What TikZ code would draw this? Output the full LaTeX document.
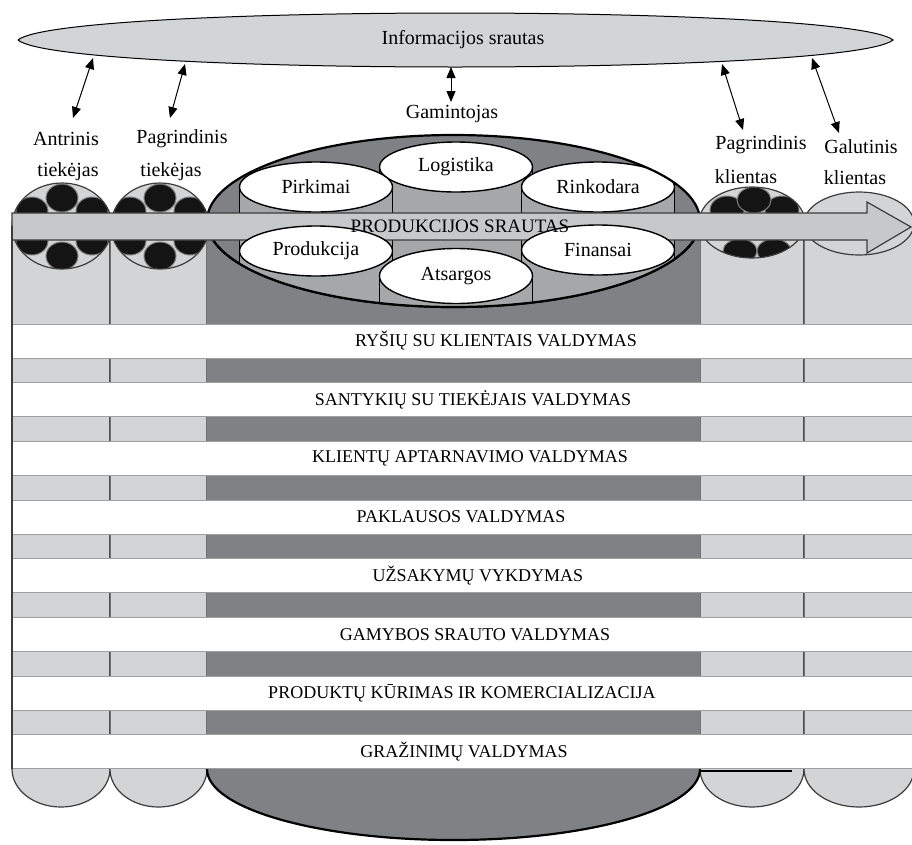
\documentclass[tikz,border=0pt]{standalone}
\usepackage{fontspec}
\setmainfont{Liberation Serif}
\usetikzlibrary{arrows.meta,shapes.geometric}

\definecolor{colgray}{HTML}{D3D4D6}
\definecolor{flowgray}{HTML}{C7C8CA}
\definecolor{bodygray}{HTML}{A6A7A9}
\definecolor{coregray}{HTML}{808185}
\definecolor{edgegray}{HTML}{3C3C3C}

\begin{document}
\begin{tikzpicture}[x=1pt,y=-1pt,
  func/.style={ellipse,draw=black,line width=1.4pt,fill=white,minimum width=153pt,
    minimum height=50pt,inner sep=0pt,font=\fontsize{20}{22}\selectfont},
  lbl/.style={font=\fontsize{20}{22}\selectfont,inner sep=0pt},
  proc/.style={font=\fontsize{18}{20}\selectfont,inner sep=0pt},
  ball/.style={fill=black!92,draw=gray,line width=1pt},
  infoarrow/.style={{Triangle[length=11pt,width=9pt]}-{Triangle[length=11pt,width=9pt]},line width=1pt}]
  \useasboundingbox (0,0) rectangle (912,844);

  % informacijos srautas (pointed ellipse)
  \draw[fill=colgray,line width=1pt] (18,40) .. controls (60,4) and (850,4) .. (893,40)
    .. controls (850,76) and (60,76) .. (18,40);
  \node[lbl] (info) at (463,40) {Informacijos srautas};

  % side columns with rounded bottoms
  \foreach \xa/\xb/\cy in {12/110/226, 110/207/226, 700/804/222, 804/914/223}{
    \pgfmathsetmacro{\rad}{(\xb-\xa)/2}
    \draw[fill=colgray,draw=edgegray,line width=1.2pt]
      (\xa,\cy) -- (\xa,769) arc[start angle=180,end angle=0,x radius=\rad,y radius=38] -- (\xb,\cy);
  }

  % central cylinder (gamintojas)
  \fill[coregray] (207,221) -- (207,769) arc[start angle=180,end angle=0,x radius=246.5,y radius=71]
    -- (700,221) -- cycle;
  \draw[line width=2.2pt] (207,769) arc[start angle=180,end angle=0,x radius=246.5,y radius=71];
  \fill[coregray] (453.5,221) ellipse [x radius=246.5,y radius=86];

  % back row of small cylinders
  \begin{scope}
    \clip (453.5,221) ellipse [x radius=246.5,y radius=86];
    \foreach \xa/\ya in {379.5/167, 239.5/187, 521.5/187}{
      \fill[bodygray] (\xa,\ya) rectangle ++(153,110);
      \draw[line width=1pt] (\xa,\ya) -- ++(0,110) (\xa+153,\ya) -- ++(0,110);
    }
    \node[func] (logistika) at (456,167) {Logistika};
    \node[func] (pirkimai) at (316,187) {Pirkimai};
    \node[func] (rinkodara) at (598,187) {Rinkodara};
  \end{scope}
  \draw[line width=2.2pt] (453.5,221) ellipse [x radius=246.5,y radius=86];

  % tops of the side cylinders with the balls
  \foreach \cx/\cy/\rx/\ry in {62/226/50/43, 160/226/49/43}{
    \fill[colgray] (\cx,\cy) ellipse [x radius=\rx,y radius=\ry];
    \begin{scope}
      \clip (\cx,\cy) ellipse [x radius=\rx,y radius=\ry];
      \foreach \dx/\by in {0/198, -30/211, 30/211, -30/241, 30/241, 0/256}
        \draw[ball] (\cx+\dx,\by) ellipse [x radius=16,y radius=14];
    \end{scope}
    \draw[draw=edgegray,line width=1.2pt] (\cx,\cy) ellipse [x radius=\rx,y radius=\ry];
  }
  \fill[colgray] (752,222.5) ellipse [x radius=53,y radius=35.5];
  \begin{scope}
    \clip (752,222.5) ellipse [x radius=53,y radius=35.5];
    \foreach \bx/\by/\bry in {727/210/14, 782/210/14, 754/200/13, 740/251/12, 774/251/12}
      \draw[ball] (\bx,\by) ellipse [x radius=17,y radius=\bry];
  \end{scope}
  \draw[draw=edgegray,line width=1.2pt] (752,222.5) ellipse [x radius=53,y radius=35.5];
  \draw[fill=colgray,draw=edgegray,line width=1.2pt] (859,223.5) ellipse [x radius=55,y radius=31.5];

  % produkcijos srautas
  \draw[fill=flowgray,draw=edgegray,line width=1.2pt] (12,213) -- (867,213) -- (867,202)
    -- (911,227) -- (867,253) -- (867,240) -- (12,240) -- cycle;

  % front row of small cylinders
  \begin{scope}
    \clip (453.5,221) ellipse [x radius=246.5,y radius=86];
    \foreach \xa/\ya in {239.5/251, 521.5/250}{
      \fill[bodygray] (\xa,\ya) rectangle ++(153,90);
      \draw[line width=1pt] (\xa,\ya) -- ++(0,90) (\xa+153,\ya) -- ++(0,90);
    }
    \node[func] (produkcija) at (316,251) {Produkcija};
    \node[func] (finansai) at (598,250) {Finansai};
    \fill[bodygray] (379.5,276) rectangle ++(153,60);
    \draw[line width=1pt] (379.5,276) -- ++(0,60) (532.5,276) -- ++(0,60);
    \node[func,minimum height=55pt] (atsargos) at (456,276) {Atsargos};
  \end{scope}
  \begin{scope}
    \clip (200,241) rectangle (710,330);
    \draw[line width=2.2pt] (453.5,221) ellipse [x radius=246.5,y radius=86];
  \end{scope}
  \node[font=\fontsize{19}{21}\selectfont,inner sep=0pt] (flow) at (460,226) {PRODUKCIJOS SRAUTAS};

  % management processes
  \foreach \px/\txt [count=\i from 0] in {496/RYŠIŲ SU KLIENTAIS VALDYMAS,
      473/SANTYKIŲ SU TIEKĖJAIS VALDYMAS, 470/KLIENTŲ APTARNAVIMO VALDYMAS,
      461/PAKLAUSOS VALDYMAS, 478/UŽSAKYMŲ VYKDYMAS, 475/GAMYBOS SRAUTO VALDYMAS,
      462/PRODUKTŲ KŪRIMAS IR KOMERCIALIZACIJA, 464/GRAŽINIMŲ VALDYMAS}{
    \pgfmathsetmacro{\ytop}{324+\i*58.7}
    \draw[fill=white,draw=gray!75,line width=1pt] (12,\ytop) rectangle (914,\ytop+34);
    \node[proc] (proc\i) at (\px,\ytop+17) {\txt};
  }
  \draw[draw=edgegray,line width=1.4pt] (12,226) -- (12,769);
  \draw[line width=2pt] (700,771) -- (792,771);

  % participants
  \node[lbl] (antrinis) at (66,139) {Antrinis};
  \node[lbl] (antrinis2) at (68,172) {tiekėjas};
  \node[lbl] (tiekejas) at (182,139) {Pagrindinis};
  \node[lbl] (tiekejas2) at (171,172) {tiekėjas};
  \node[lbl] (gamintojas) at (452,114) {Gamintojas};
  \node[lbl] (klientas) at (761,145) {Pagrindinis};
  \node[lbl] (klientas2) at (746,177) {klientas};
  \node[lbl] (galutinis) at (861,147) {Galutinis};
  \node[lbl] (galutinis2) at (855,178) {klientas};

  % information links
  \coordinate (i1) at (93,58);   \coordinate (s1) at (73,118);
  \coordinate (i2) at (185,64);  \coordinate (s2) at (170,118);
  \coordinate (i3) at (451,67);  \coordinate (s3) at (451,102);
  \coordinate (i4) at (722,64);  \coordinate (s4) at (743,130);
  \coordinate (i5) at (812,58);  \coordinate (s5) at (839,133);
  \foreach \n in {1,...,5}
    \draw[infoarrow] (i\n) -- (s\n);
\end{tikzpicture}
\end{document}
